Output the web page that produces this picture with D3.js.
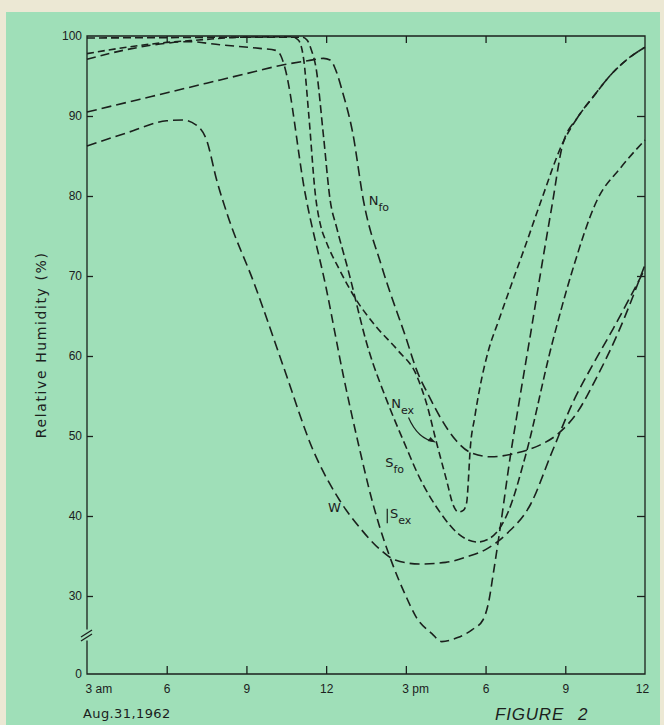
<!DOCTYPE html>
<html lang="en">
<head>
<meta charset="UTF-8">
<script src="https://cdn.jsdelivr.net/npm/d3@7"></script>
<title>Relative humidity, Aug. 31, 1962</title>
<style>
  body { margin: 0; background: #9fdfb8; }
  svg { display: block; font-family: "DejaVu Sans", sans-serif; }
  .curve { fill: none; stroke: #1b211d; stroke-width: 1.6; }
  .frame { fill: none; stroke: #1b211d; stroke-width: 1.3; }
  .tick line { stroke: #1b211d; stroke-width: 1.3; }
  .tick text { fill: #1b211d; font-size: 12px; }
  .lbl { fill: #1b211d; }
</style>
</head>
<body>
<svg id="chart" width="664" height="725"></svg>
<script>
// time of day in hours (3 = 3 am, 24 = midnight)
const hourTicks = [3, 6, 9, 12, 15, 18, 21, 24];
const hourLabels = ["3 am", "6", "9", "12", "3 pm", "6", "9", "12"];
const rhTicks = [0, 30, 40, 50, 60, 70, 80, 90, 100];

// [hour, relative humidity %]
const seriesW = [
  [3, 86.25], [4.5, 87.9], [6.0, 89.4], [6.6, 89.5], [7.1, 88.9], [7.5, 87.0],
  [7.88, 82.0], [8.3, 77.5], [9.3, 69.0], [10.4, 58.6], [11.5, 48.3], [12.5, 42.0],
  [13.3, 38.4], [14.0, 35.9], [14.6, 34.5], [15.5, 34.0], [16.5, 34.2], [17.3, 34.9],
  [18.0, 35.8], [18.8, 37.8], [19.7, 41.5], [20.5, 48.0], [21.3, 54.3], [22.0, 58.7],
  [22.8, 63.4], [24, 70.9]
];
const seriesNfo = [
  [3, 90.5], [5, 92.1], [7.5, 94.1], [9, 95.3], [10.4, 96.4], [11.3, 96.9], [11.9, 97.2],
  [12.15, 97.0], [12.4, 95.4], [12.6, 93.2], [13.0, 87.9], [13.4, 79.5], [14.1, 71.1],
  [15.0, 62.3], [15.4, 58.3], [15.9, 54.8], [16.3, 52.3], [16.9, 49.4], [17.4, 48.0],
  [18.2, 47.4], [19.2, 47.9], [20.0, 48.8], [20.7, 50.2], [21.5, 53.2], [22.1, 56.8],
  [23.0, 63.0], [24, 71.4]
];
const seriesNex = [
  [3, 97.8], [4.5, 98.6], [6.0, 99.2], [7.2, 99.5], [8.8, 99.85], [10.7, 99.9],
  [10.95, 99.5], [11.15, 97.2], [11.35, 90.0], [11.6, 80.0], [11.8, 76.2], [12.0, 74.3],
  [12.5, 70.8], [13.1, 67.2], [13.9, 63.6], [14.7, 60.7], [15.4, 57.6], [15.8, 53.8],
  [16.16, 49.1], [16.53, 44.5], [16.79, 41.3], [16.98, 40.5], [17.16, 40.7], [17.29, 41.7],
  [17.35, 44.3], [17.41, 47.8], [17.6, 52.5], [17.8, 56.3], [18.1, 60.6], [18.5, 64.5],
  [19.0, 69.2], [19.5, 73.8], [20.1, 79.5], [20.9, 86.6], [21.45, 89.75], [22.05, 92.4],
  [22.7, 95.1], [23.3, 97.0], [24, 98.6]
];
const seriesSfo = [
  [3, 99.75], [6, 99.8], [9, 99.85], [11.1, 99.85], [11.28, 99.5], [11.45, 98.2],
  [11.62, 96.0], [11.9, 87.5], [12.15, 79.5], [12.4, 76.0], [12.8, 71.1], [13.6, 60.75],
  [14.3, 54.3], [15.05, 48.3], [15.4, 45.6], [16.3, 40.4], [17.0, 37.7], [17.7, 36.75],
  [18.1, 37.1], [18.4, 37.9], [18.85, 40.5], [19.5, 47.5], [20.5, 61.5], [21.25, 70.5],
  [22.2, 79.5], [23.1, 83.6], [24, 87.0]
];
const seriesSex = [
  [3, 97.1], [4.5, 98.3], [6.0, 99.1], [6.8, 99.3], [8.0, 98.9], [9.5, 98.45],
  [10.1, 98.2], [10.3, 97.5], [10.45, 96.0], [11.2, 80.5], [12.0, 68.5], [12.65, 57.5],
  [13.2, 49.2], [13.78, 41.3], [14.53, 33.7], [15.0, 30.0], [15.4, 27.3], [15.98, 25.3],
  [16.35, 24.3], [16.95, 24.8], [17.5, 25.8], [17.9, 27.0], [18.1, 29.0], [18.3, 33.0],
  [18.55, 38.5], [18.92, 47.2], [19.3, 55.0], [19.7, 62.9], [20.1, 71.0], [20.5, 78.8],
  [20.9, 86.4], [21.45, 89.75], [22.05, 92.4], [22.7, 95.1], [23.3, 97.0], [24, 98.6]
];

const svg = d3.select("#chart");

// paper edges round the green card
svg.append("rect").attr("width", 664).attr("height", 725).attr("fill", "#ece8d4");
svg.append("rect").attr("x", 6).attr("y", 12).attr("width", 654).attr("height", 713)
  .attr("fill", "#9fdfb8");

const x = d3.scaleLinear().domain([3, 24]).range([87, 645]);
// broken axis: 0 sits just below the 30..100 part
const y = d3.scaleLinear().domain([0, 22, 100]).range([674, 660, 36]);

// axes (ticks point inward)
svg.append("g")
  .attr("transform", `translate(${x(3)},0)`)
  .call(d3.axisLeft(y).tickValues(rhTicks).tickSizeInner(-6).tickSizeOuter(0).tickPadding(5))
  .call(g => g.select(".domain").remove())
  .call(g => g.selectAll(".tick").filter(d => d === 0 || d === 100).select("line").remove());

svg.append("g")
  .attr("transform", `translate(${x(24)},0)`)
  .call(d3.axisRight(y).tickValues(rhTicks.filter(d => d > 0 && d < 100))
    .tickSizeInner(-8).tickSizeOuter(0).tickFormat(""))
  .call(g => g.select(".domain").remove());

svg.append("g")
  .attr("transform", `translate(0,${y(0)})`)
  .call(d3.axisBottom(x).tickValues(hourTicks).tickFormat((d, i) => hourLabels[i])
    .tickSizeInner(-8).tickSizeOuter(0).tickPadding(10))
  .call(g => g.select(".domain").remove())
  .call(g => g.selectAll(".tick").filter(d => d === 3 || d === 24).select("line").remove())
  .call(g => g.selectAll(".tick text")
    .filter((d, i) => /m$/.test(hourLabels[i]))
    .attr("text-anchor", "start").attr("x", d => d === 3 ? -2 : -4))
  .call(g => g.selectAll(".tick text").filter(d => d === 24).attr("x", -3));

svg.append("g")
  .attr("transform", `translate(0,${y(100)})`)
  .call(d3.axisTop(x).tickValues(hourTicks.filter(d => d > 3 && d < 24))
    .tickSizeInner(-7).tickSizeOuter(0).tickFormat(""))
  .call(g => g.select(".domain").remove());

// frame with the break on the left side
const brk = y(25.06);
svg.append("path").attr("class", "frame")
  .attr("d", `M${x(3)},${brk - 6}V${y(100)}H${x(24)}V${y(0)}H${x(3)}V${brk + 5}`);
svg.append("g").selectAll("line").data([-2, 2])
  .join("line")
  .attr("x1", x(3) - 6).attr("x2", x(3) + 5)
  .attr("y1", d => brk + d + 3.5).attr("y2", d => brk + d - 3.5)
  .attr("stroke", "#1b211d").attr("stroke-width", 1.3);

// curves
const line = d3.line().x(d => x(d[0])).y(d => y(d[1])).curve(d3.curveMonotoneX);
const curves = [
  { data: seriesW, dash: "10,5" },
  { data: seriesNfo, dash: "10,5" },
  { data: seriesSex, dash: "9,5" },
  { data: seriesSfo, dash: "8,4" },
  { data: seriesNex, dash: "7,4" }
];
svg.append("g").selectAll("path").data(curves).join("path")
  .attr("class", "curve")
  .attr("stroke-dasharray", d => d.dash)
  .attr("d", d => line(d.data));

// curve labels
const label = (hx, ry, main, sub) => {
  const t = svg.append("text").attr("class", "lbl")
    .attr("x", x(hx)).attr("y", y(ry)).style("font-size", "13px").text(main);
  if (sub) t.append("tspan").attr("dy", 6).style("font-size", "11px").text(sub);
};
label(13.6, 78.9, "N", "fo");
label(14.45, 53.5, "N", "ex");
label(14.22, 46.1, "S", "fo");
label(12.07, 40.5, "W");
label(14.4, 39.75, "S", "ex");
svg.append("line")
  .attr("x1", x(14.3)).attr("x2", x(14.3))
  .attr("y1", y(40.9)).attr("y2", y(39.1))
  .attr("stroke", "#1b211d").attr("stroke-width", 1.2);

// arrow from the N ex label
const a0 = [x(15.1), y(52.3)], a1 = [x(16.08), y(49.3)];
svg.append("path")
  .attr("d", `M${a0}Q${x(15.45)},${y(49.6)} ${a1}`)
  .attr("fill", "none").attr("stroke", "#1b211d").attr("stroke-width", 1.2);
svg.append("path")
  .attr("d", `M${a1[0] + 1},${a1[1] + 1}l-8,-1.5l3,-4z`)
  .attr("fill", "#1b211d");

// axis title and notes
svg.append("text").attr("class", "lbl")
  .attr("transform", `translate(46,${y(61.4)}) rotate(-90)`)
  .attr("text-anchor", "middle")
  .style("font-size", "14px").style("letter-spacing", "1.6px")
  .text("Relative Humidity (%)");

svg.append("text").attr("class", "lbl")
  .attr("x", 83).attr("y", 718)
  .style("font-size", "13px").style("letter-spacing", "0.4px")
  .text("Aug.31,1962");

svg.append("text").attr("class", "lbl")
  .attr("x", 495).attr("y", 720)
  .style("font-family", "'Liberation Sans', sans-serif")
  .style("font-size", "17px").style("font-style", "italic").style("letter-spacing", "0.8px")
  .text("FIGURE");
svg.append("text").attr("class", "lbl")
  .attr("x", 578).attr("y", 720)
  .style("font-family", "'Liberation Sans', sans-serif")
  .style("font-size", "17px").style("font-style", "italic")
  .text("2");
</script>
</body>
</html>
